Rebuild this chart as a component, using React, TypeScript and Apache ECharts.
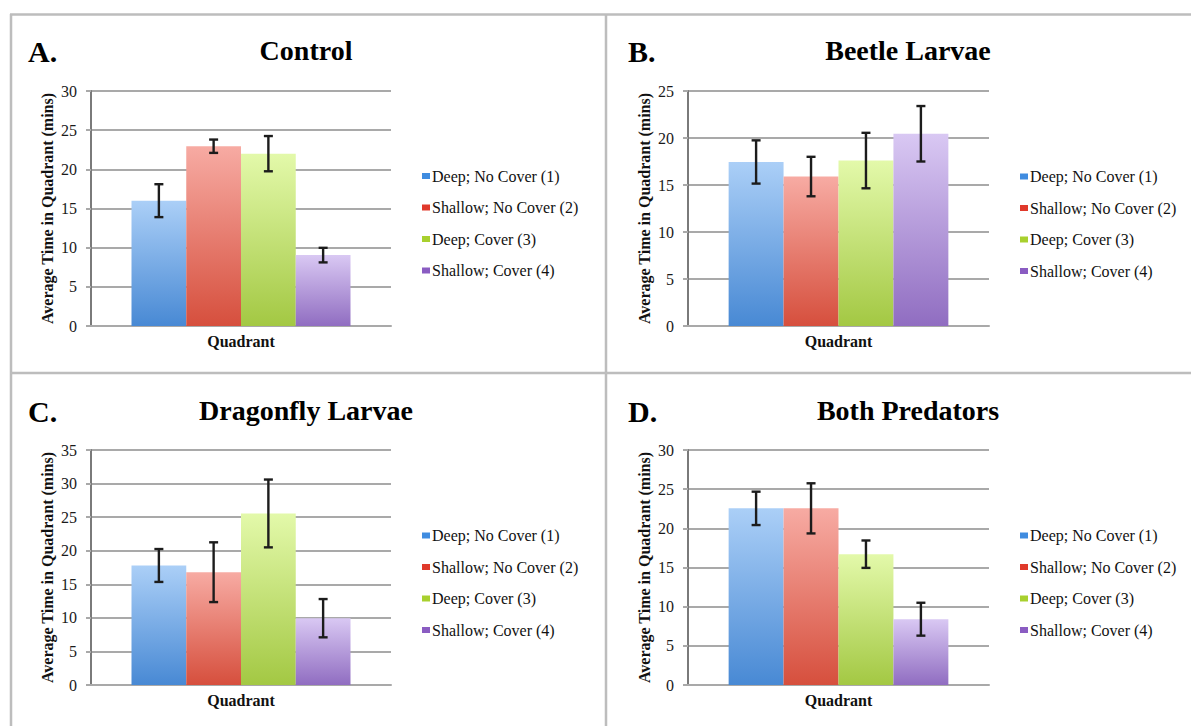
import React, { useEffect, useRef } from "react";
import * as echarts from "echarts";

// ---- data ----
const categories = ["Quadrant"];
const groupNames = ["Deep; No Cover (1)", "Shallow; No Cover (2)", "Deep; Cover (3)", "Shallow; Cover (4)"];
const panelLetters = ["A.", "B.", "C.", "D."];
const panelTitles = ["Control", "Beetle Larvae", "Dragonfly Larvae", "Both Predators"];
const controlMeans = [16.0, 22.95, 22.0, 9.05];
const controlErrors = [2.1, 0.85, 2.25, 0.93];
const beetleMeans = [17.45, 15.9, 17.6, 20.45];
const beetleErrors = [2.3, 2.1, 2.95, 2.95];
const dragonflyMeans = [17.8, 16.8, 25.55, 9.95];
const dragonflyErrors = [2.45, 4.45, 5.05, 2.85];
const bothMeans = [22.55, 22.55, 16.7, 8.4];
const bothErrors = [2.13, 3.2, 1.75, 2.1];
const yMaxes = [30, 25, 35, 30];
const yInterval = 5;
const yAxisTitle = "Average Time in Quadrant (mins)";

const panelMeans = [controlMeans, beetleMeans, dragonflyMeans, bothMeans];
const panelErrors = [controlErrors, beetleErrors, dragonflyErrors, bothErrors];

// ---- styling / layout ----
const SERIF = "'Liberation Serif', 'Times New Roman', 'DejaVu Serif', serif";
const CAT_GAP = 0.27;
const gradients = [
  ["#abcff7", "#4889d4"],
  ["#f7aba3", "#d64f3d"],
  ["#e3f9aa", "#a3c843"],
  ["#d9c8f3", "#906dc1"],
];
const legendColors = ["#3f8ce0", "#e0392b", "#a8d02e", "#8a5cc2"];

const layout = [
  { left: 91, top: 91, width: 300, height: 235, titleX: 306, titleY: 36, letterX: 28, legendLeft: 422, legendTop: 168 },
  { left: 688, top: 91, width: 301, height: 235, titleX: 908, titleY: 36, letterX: 628, legendLeft: 1020, legendTop: 168.5 },
  { left: 91, top: 450, width: 300, height: 235, titleX: 306, titleY: 396, letterX: 28, legendLeft: 422, legendTop: 527.5 },
  { left: 688, top: 450, width: 301, height: 235, titleX: 908, titleY: 396, letterX: 628, legendLeft: 1020, legendTop: 527.5 },
];

function buildOption() {
  const grid: any[] = [];
  const xAxis: any[] = [];
  const yAxis: any[] = [];
  const series: any[] = [];
  const title: any[] = [];
  const legend: any[] = [];

  layout.forEach((L, p) => {
    grid.push({ left: L.left, top: L.top, width: L.width, height: L.height, containLabel: false });
    xAxis.push({
      type: "category",
      gridIndex: p,
      data: categories,
      axisLine: { show: true, lineStyle: { color: "#a9a9a9", width: 2 } },
      axisTick: { show: false },
      axisLabel: {
        margin: 7,
        fontFamily: SERIF,
        fontWeight: "bold",
        fontSize: 16,
        color: "#111",
      },
    });
    yAxis.push({
      type: "value",
      gridIndex: p,
      min: 0,
      max: yMaxes[p],
      interval: yInterval,
      name: yAxisTitle,
      nameLocation: "middle",
      nameGap: 36,
      nameTextStyle: { fontFamily: SERIF, fontWeight: "bold", fontSize: 16, color: "#111" },
      axisLine: { show: true, lineStyle: { color: "#7a7a7a", width: 2 } },
      axisTick: { show: true, length: 5, lineStyle: { color: "#a9a9a9", width: 2 } },
      axisLabel: { margin: 14, fontFamily: SERIF, fontSize: 16, color: "#1a1a1a" },
      splitLine: { show: true, lineStyle: { color: "#a9a9a9", width: 2 } },
    });

    const means = panelMeans[p];
    const errs = panelErrors[p];
    groupNames.forEach((name, g) => {
      series.push({
        type: "bar",
        name,
        xAxisIndex: p,
        yAxisIndex: p,
        data: [means[g]],
        barGap: "0%",
        barCategoryGap: CAT_GAP * 100 + "%",
        itemStyle: {
          color: new echarts.graphic.LinearGradient(0, 0, 0, 1, [
            { offset: 0, color: gradients[g][0] },
            { offset: 1, color: gradients[g][1] },
          ]),
        },
        silent: true,
      });
    });
    series.push({
      type: "custom",
      xAxisIndex: p,
      yAxisIndex: p,
      z: 10,
      silent: true,
      data: means.map((m, g) => [0, m, errs[g], g]),
      renderItem: (params: any, api: any) => {
        const cat = api.value(0);
        const mean = api.value(1);
        const err = api.value(2);
        const g = api.value(3);
        const band = api.size([1, 0])[0];
        const barW = (band * (1 - CAT_GAP)) / 4;
        const hi = api.coord([cat, mean + err]);
        const lo = api.coord([cat, mean - err]);
        const x = hi[0] + (g - 1.5) * barW;
        const half = 4.5;
        const style = { stroke: "#1c1c1c", lineWidth: 2.4 };
        return {
          type: "group",
          children: [
            { type: "line", shape: { x1: x, y1: hi[1], x2: x, y2: lo[1] }, style },
            { type: "line", shape: { x1: x - half, y1: hi[1], x2: x + half, y2: hi[1] }, style },
            { type: "line", shape: { x1: x - half, y1: lo[1], x2: x + half, y2: lo[1] }, style },
          ],
        };
      },
    });

    title.push({
      text: panelTitles[p],
      left: L.titleX,
      top: L.titleY,
      textAlign: "center",
      padding: 0,
      textStyle: { fontFamily: SERIF, fontWeight: "bold", fontSize: 28, color: "#000" },
    });
    title.push({
      text: panelLetters[p],
      left: L.letterX,
      top: L.titleY,
      padding: 0,
      textStyle: { fontFamily: SERIF, fontWeight: "bold", fontSize: 30, color: "#000" },
    });

    legend.push({
      orient: "vertical",
      left: L.legendLeft,
      top: L.legendTop,
      padding: 0,
      itemWidth: 8,
      itemHeight: 6,
      itemGap: 15.5,
      icon: "rect",
      selectedMode: false,
      data: groupNames.map((n, g) => ({ name: n, itemStyle: { color: legendColors[g] } })),
      textStyle: {
        fontFamily: SERIF,
        fontSize: 16,
        lineHeight: 16,
        color: "#111",
        padding: [0, 0, 0, -3],
      },
    });
  });

  const frame = { stroke: "#bdbdbd", lineWidth: 2.5 };
  const graphic = [
    { type: "line", shape: { x1: 10, y1: 14.5, x2: 1191, y2: 14.5 }, style: frame, silent: true },
    { type: "line", shape: { x1: 11, y1: 14, x2: 11, y2: 726 }, style: frame, silent: true },
    { type: "line", shape: { x1: 606, y1: 14, x2: 606, y2: 726 }, style: frame, silent: true },
    { type: "line", shape: { x1: 10, y1: 373, x2: 1191, y2: 373 }, style: frame, silent: true },
  ];

  return {
    animation: false,
    backgroundColor: "#ffffff",
    title,
    legend,
    grid,
    xAxis,
    yAxis,
    series,
    graphic,
  };
}

export default function App() {
  const ref = useRef<HTMLDivElement>(null);
  useEffect(() => {
    if (!ref.current) return;
    const chart = echarts.init(ref.current, undefined, { renderer: "svg" });
    chart.setOption(buildOption() as any);
    return () => chart.dispose();
  }, []);
  return (
    <div
      ref={ref}
      style={{ position: "fixed", left: 0, top: 0, width: 1191, height: 726, background: "#fff" }}
    />
  );
}
